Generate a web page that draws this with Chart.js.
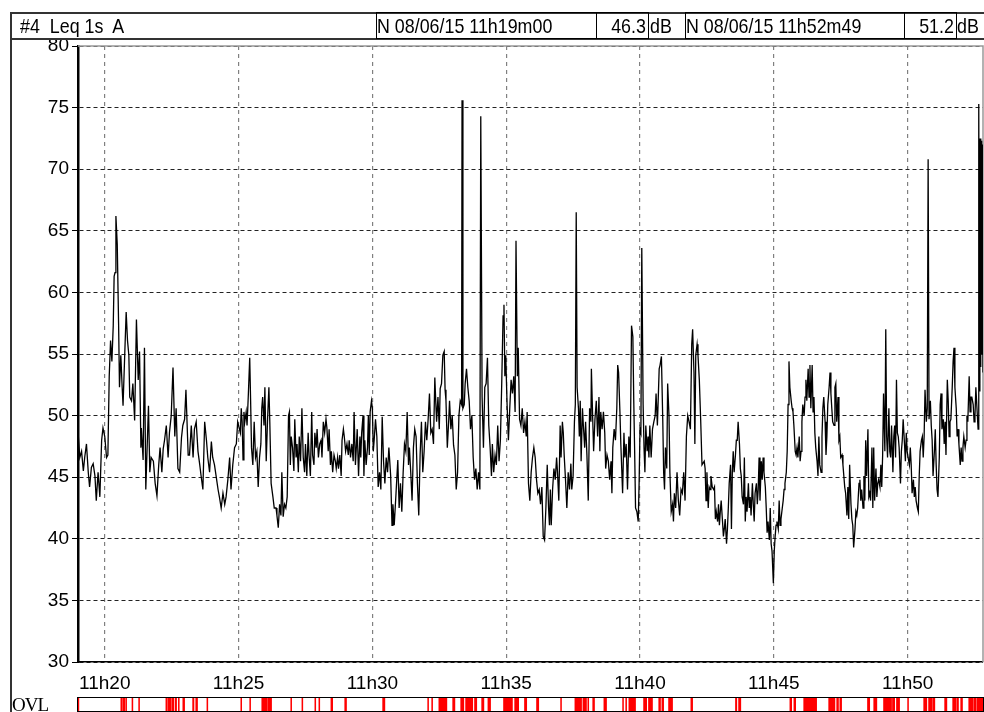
<!DOCTYPE html>
<html>
<head>
<meta charset="utf-8">
<title>Leq 1s A</title>
<script src="https://cdn.jsdelivr.net/npm/chart.js@4.4.0/dist/chart.umd.min.js"></script>
<style>
  html, body { margin: 0; padding: 0; background: #fff; }
  body {
    position: relative; width: 984px; height: 712px; overflow: hidden;
    font-family: 'Liberation Sans', Arial, sans-serif;
    font-size: 21px; color: #000;
  }
  canvas { position: absolute; }
  #main { left: 0; top: 0; }
  #ovl { left: 77px; top: 697px; }
  .line { position: absolute; background: #333; }
  .txt { position: absolute; top: 12px; height: 27px; line-height: 27px; white-space: pre; }
  .box { position: absolute; top: 12px; height: 25px; line-height: 25px; border: 1px solid #000; white-space: pre; box-sizing: content-box; overflow: hidden; }
  .sq { display: inline-block; transform: scaleX(0.85); transform-origin: 0 50%; }
  .num { text-align: right; padding-right: 2px; }
  .num .sq { transform-origin: 100% 50%; }
  #ovlLabel { position: absolute; left: 12px; top: 694px; font-family: 'Liberation Serif', 'Times New Roman', serif; font-size: 19px; letter-spacing: -1px; }
</style>
</head>
<body>
<canvas id="main" width="984" height="712"></canvas>
<canvas id="ovl" width="907" height="15"></canvas>

<div class="line" style="left:10px; top:12px; width:974px; height:2px;"></div>
<div class="line" style="left:10px; top:38px; width:974px; height:2px;"></div>
<div class="line" style="left:10px; top:12px; width:2px; height:700px;"></div>
<div class="txt" style="left:20px;"><span class="sq">#4  Leq 1s  A</span></div>
<div class="box" style="left:376px; width:219px;"><span class="sq">N 08/06/15 11h19m00</span></div>
<div class="box num" style="left:596px; width:49px;"><span class="sq">46.3</span></div>
<div class="txt" style="left:650px;"><span class="sq">dB</span></div>
<div class="box" style="left:685px; width:218px;"><span class="sq">N 08/06/15 11h52m49</span></div>
<div class="box num" style="left:904px; width:49px;"><span class="sq">51.2</span></div>
<div class="txt" style="left:957px;"><span class="sq">dB</span></div>
<div id="ovlLabel">OVL</div>

<script>
// seconds after 11h19m00 and the Leq (dB) read at that second
const seconds = [
  0,4,8,12,15,19,23,26,30,34,38,41,45,49,53,56,60,64,67,70,73,76,79,81,83,85,88,91,93,96,
  99,101,105,108,111,114,116,120,123,127,131,135,138,141,142,146,149,152,155,158,161,164,169,173,177,181,184,188,191,194,
  198,202,205,209,213,217,220,224,228,232,235,239,242,247,250,254,258,261,265,269,273,276,280,284,288,291,295,299,302,306,
  310,314,317,321,325,329,332,336,340,343,347,351,355,358,
  364,366,368,370,372,374,377,379,382,385,387,389,392,395,398,401,404,407,410,412,414,417,419,422,425,428,430,433,437,440,
  444,446,449,452,455,457,460,463,466,469,472,474,476,478,481,484,486,489,491,494,496,499,502,505,508,510,513,516,518,521,
  524,526,529,531,534,536,539,542,545,547,550,553,556,558,561,563,566,568,571,574,577,579,582,584,587,590,592,595,597,600,
  603,606,608,611,614,617,619,622,624,626,629,632,634,636,639,641,643,646,649,651,653,655,658,660,662,664,667,670,673,676,
  679,682,685,688,691,694,697,701,704,
  706,709,713,717,720,723,726,729,732,735,738,741,743,746,749,752,755,758,761,764,767,770,773,776,779,782,785,788,791,794,
  797,800,802,804,807,810,812,815,818,821,823,825,828,831,833,836,839,842,845,848,851,854,857,860,861,863,866,868,871,874,
  877,880,883,886,889,892,895,898,901,903,906,909,912,915,918,921,924,927,929,932,935,938,941,944,947,950,953,955,957,959,
  962,965,968,971,974,977,980,982,985,987,990,993,996,999,1002,1005,1007,1010,1013,1016,1019,1022,1025,1028,1031,1034,1037,1040,1043,1046,
  1049,1052,
  1055,1057,1059,1061,1064,1067,1070,1073,1075,1078,1081,1083,1086,1088,1090,1093,1096,1099,1102,1105,1107,1110,1113,1115,1117,1119,1122,1124,1126,1128,
  1131,1133,1136,1138,1141,1144,1147,1150,1151,1154,1156,1159,1162,1165,1168,1170,1172,1175,1178,1181,1183,1186,1189,1192,1195,1197,1199,1202,1205,1208,
  1210,1212,1215,1217,1219,1221,1224,1226,1229,1232,1235,1238,1241,1244,1246,1248,1250,1253,1256,1258,1260,1262,1264,1267,1269,1271,1273,1276,1278,1280,
  1282,1285,1288,1291,1294,1296,1299,1301,1303,1305,1308,1311,1313,1315,1317,1320,1322,1325,1327,1330,1333,1335,1337,1340,1343,1346,1349,1352,1355,1358,
  1361,1364,1367,1370,1373,1376,1378,1381,1383,1385,1388,1390,1393,1396,1399,
  1404,1406,1408,1410,1413,1415,1417,1419,1422,1425,1427,1429,1431,1434,1436,1438,1440,1442,1445,1447,1449,1451,1454,1456,1458,1460,1463,1465,1467,1469,
  1471,1474,1476,1478,1480,1483,1485,1487,1489,1492,1494,1496,1498,1500,1503,1505,1507,1509,1512,1514,1516,1518,1521,1523,1525,1527,1529,1532,1534,1536,
  1538,1541,1543,1545,1547,1550,1552,1554,1556,1559,1561,1563,1565,1567,1570,1572,1574,1576,1579,1581,1583,1585,1588,1590,1592,1594,1596,1599,1601,1603,
  1605,1608,1610,1612,1614,1617,1619,1621,1623,1625,1628,1630,1632,1634,1637,1639,1641,1643,1646,1648,1650,1652,1654,1657,1659,1661,1663,1666,1668,1670,
  1672,1675,1677,1679,1681,1684,1686,1688,1690,1692,1695,1697,1699,1701,1704,1706,1708,1710,1713,1715,1717,1719,1721,1724,1726,1728,1730,1733,1735,1737,
  1739,1742,1744,1746,1748,
  1751,1753,1755,1757,1760,1762,1764,1766,1768,1771,1773,1775,1777,1780,1782,1784,1786,1789,1791,1793,1795,1798,1800,1802,1804,1806,1809,1811,1813,1815,
  1818,1820,1822,1824,1827,1829,1831,1833,1835,1837,1839,1841,1844,1846,1848,1850,1853,1855,1857,1859,1861,1864,1866,1868,1870,1873,1875,1877,1879,1882,
  1884,1886,1888,1891,1893,1895,1897,1899,1902,1904,1906,1908,1911,1913,1915,1917,1920,1922,1924,1926,1928,1931,1933,1935,1937,1940,1942,1944,1946,1949,
  1951,1953,1955,1957,1960,1962,1964,1966,1969,1971,1973,1975,1978,1980,1982,1984,1986,1989,1991,1993,1995,1998,2000,2002,2004,2007,2009,2011,2013,2015,
  2018,2019,2020,2021,2022,2023,2024,2025,2026,2027,2028,2029
];
const leqA = [
  48.7,46.6,47.1,45.5,46.6,47.7,45.4,44.2,45.8,46.1,45.1,43.1,45.4,43.4,48.0,49.0,48.3,46.6,46.8,53.2,56.1,54.4,57.3,61.3,61.6,66.2,63.9,57.5,52.3,54.9,
  52.3,50.8,55.2,58.4,56.1,54.9,51.5,51.2,52.6,49.6,57.8,52.9,55.2,47.4,49.0,46.4,55.5,44.0,47.4,50.8,45.4,46.6,46.3,44.5,43.5,46.0,47.4,45.4,47.3,48.0,
  49.2,46.6,48.6,50.0,53.9,48.3,50.6,45.7,45.4,48.2,49.2,49.7,52.1,46.8,46.8,49.2,46.6,48.9,49.5,47.1,46.0,45.1,44.0,49.5,48.0,46.6,45.4,47.9,46.6,46.0,
  45.0,44.0,43.4,42.5,43.7,42.8,43.4,44.8,46.6,44.0,46.0,47.4,47.7,49.5,
  48.6,50.6,49.5,46.4,50.3,49.5,50.3,49.2,51.8,54.7,51.2,47.4,46.0,49.5,46.6,47.1,44.2,46.6,47.7,50.6,51.5,49.2,52.3,46.3,49.7,52.3,49.5,44.5,43.4,42.5,
  42.5,41.9,40.9,42.8,41.9,45.4,41.8,42.8,42.5,43.4,50.0,50.3,46.0,48.3,47.4,45.5,49.7,46.6,47.7,45.4,48.3,46.3,50.6,46.6,45.4,47.7,45.1,48.6,46.8,45.1,
  50.3,46.8,46.0,48.6,47.4,48.9,46.6,47.7,48.0,46.6,49.5,48.6,49.7,49.0,47.1,48.9,46.0,47.1,45.4,46.8,46.3,45.7,46.6,45.7,46.8,45.1,48.0,48.9,48.3,47.1,
  47.7,46.8,48.0,46.6,47.7,46.3,50.3,46.0,47.4,48.9,45.1,48.3,46.6,48.6,50.0,45.1,48.0,46.0,47.4,50.0,46.8,50.3,51.2,50.6,47.1,48.0,49.7,48.3,44.2,45.4,
  44.0,49.9,46.3,44.5,46.6,45.4,47.4,45.1,41.1,
  42.8,41.1,43.7,46.4,42.5,44.5,42.2,45.4,47.7,47.1,50.3,46.0,47.4,45.4,43.1,47.4,48.9,48.3,44.5,41.9,46.8,49.5,45.4,47.1,49.5,48.0,49.7,51.8,48.6,48.9,
  47.7,53.1,51.2,49.5,51.5,48.9,52.2,52.6,54.9,55.2,52.1,51.2,47.4,49.5,51.2,48.9,50.0,47.6,46.8,44.0,45.4,50.0,51.2,50.9,75.6,50.6,50.9,52.6,53.8,52.3,
  51.2,48.9,50.0,46.6,44.8,45.7,44.0,45.4,44.0,74.3,51.5,47.4,52.3,52.6,54.7,49.2,47.4,45.1,47.7,45.4,46.8,46.0,49.2,46.3,48.0,52.6,58.1,59.0,53.2,54.9,
  50.9,48.0,50.6,52.9,51.8,53.2,50.3,64.2,53.2,55.5,49.7,49.2,50.6,48.6,49.5,48.3,50.3,44.5,43.1,45.4,46.6,47.4,46.6,44.8,43.7,44.0,42.8,44.2,40.2,39.9,
  42.5,46.0,
  42.5,41.1,44.0,41.1,44.0,45.7,44.8,46.6,45.4,43.1,49.2,46.6,49.5,48.6,46.8,44.8,42.5,45.4,44.0,46.1,44.0,45.1,49.5,50.9,66.5,52.3,50.6,48.3,51.2,46.3,
  50.6,49.2,47.4,49.5,46.8,43.1,50.6,49.5,53.8,49.7,47.1,49.7,51.2,48.3,51.5,47.1,50.3,48.9,50.3,48.6,45.7,46.8,46.3,44.8,46.3,43.7,47.4,48.9,48.0,50.6,
  54.1,53.5,50.3,47.7,45.7,43.7,48.6,46.6,47.7,44.0,48.3,46.6,57.3,56.4,51.2,47.1,42.5,42.2,41.4,44.5,48.9,48.6,63.6,50.9,47.4,45.4,49.2,47.1,48.3,46.6,
  49.2,46.6,48.9,49.5,50.0,51.8,49.2,51.5,53.8,54.1,54.8,49.7,45.4,44.0,47.4,45.7,52.6,50.0,45.4,42.2,42.8,41.4,43.7,42.5,45.4,43.1,41.9,44.0,43.7,45.4,
  43.1,48.3,50.0,49.5,48.9,55.8,57.0,53.5,47.7,54.9,55.8,54.9,52.9,49.7,46.0,
  46.3,45.7,43.1,45.4,42.5,44.2,44.0,45.1,44.2,44.0,44.2,41.6,42.2,41.4,42.8,41.1,42.2,43.1,41.4,40.2,40.8,41.6,39.6,40.8,42.5,44.5,46.0,40.8,45.4,47.1,
  45.4,46.8,48.0,48.0,49.5,47.7,45.7,45.1,43.4,42.8,46.6,41.4,43.4,42.2,44.5,42.5,43.4,41.9,44.5,42.8,41.4,43.7,44.5,42.8,44.0,46.6,43.1,46.3,44.8,46.6,
  45.4,44.2,42.5,40.5,41.4,39.9,42.5,39.6,39.0,36.4,39.0,40.2,41.1,41.4,40.8,43.1,41.1,41.6,42.5,43.1,44.0,44.5,45.4,47.1,50.9,54.4,52.3,51.2,50.6,50.3,
  49.2,47.1,46.8,47.4,46.6,48.3,46.3,47.1,49.5,50.9,50.0,51.5,52.9,51.2,53.8,51.5,54.1,50.6,54.1,50.3,51.5,48.6,47.4,46.3,45.1,48.3,46.0,45.4,48.3,50.6,
  51.5,49.5,46.8,48.3,50.9,52.3,53.5,51.8,50.6,49.5,49.2,52.3,52.6,49.5,51.5,48.0,48.3,46.6,46.8,46.0,45.1,44.2,43.7,41.9,44.2,41.6,46.0,42.8,41.6,41.1,
  39.3,40.8,42.2,41.9,42.5,
  44.5,44.8,43.1,44.0,42.5,45.1,43.1,48.0,45.1,48.9,43.4,43.7,43.1,47.4,42.5,47.4,43.1,45.7,43.4,44.5,44.8,44.2,46.0,44.2,46.8,51.8,47.1,57.0,48.3,46.6,
  50.6,47.1,46.6,49.2,45.4,48.3,49.2,46.6,52.9,48.6,48.3,47.4,44.5,47.1,48.0,49.7,47.7,46.3,48.6,47.1,46.6,46.0,47.4,46.0,43.7,44.8,43.4,44.2,43.1,42.5,
  42.2,45.1,47.1,48.0,48.3,46.6,48.3,52.1,49.5,50.6,70.8,49.7,51.2,49.2,48.0,45.1,47.1,48.9,46.0,44.0,43.4,46.6,50.9,51.8,48.9,49.7,47.7,49.5,46.8,52.9,
  51.2,48.3,49.5,49.7,52.3,54.4,55.5,52.3,50.6,48.3,48.9,47.7,46.0,47.4,46.3,47.4,48.3,47.4,48.0,50.0,49.5,53.2,50.3,51.5,51.5,50.9,49.5,50.0,52.3,50.9,
  48.9,51.5,75.3,52.0,72.5,54.0,72.5,55.0,72.3,56.0,72.0,53.5
];

// x axis ticks (seconds after 11h19m00) and their labels
const tickSeconds = [60, 360, 660, 960, 1260, 1560, 1860];
const timeTicks = ['11h20', '11h25', '11h30', '11h35', '11h40', '11h45', '11h50'];

// overload periods, start / end in seconds after 11h19m00
const ovlStart = [0,96,100,107,121,136,197,201,210,218,225,235,257,264,289,365,385,412,425,477,502,531,540,567,598,683,784,793,809,840,
  858,869,889,905,919,954,979,1001,1028,1082,1114,1132,1143,1154,1179,1221,1228,1235,1268,1279,1302,1309,1324,1374,1474,1481,1596,1605,1627,1683,
  1701,1708,1770,1784,1806,1826,1835,1860,1896,1907,1916,1943,1961,1970,1979,1997,2008,2015];
const ovlEnd = [2,98,105,109,123,138,199,208,215,221,227,239,260,268,291,367,387,423,434,479,504,533,542,571,602,688,786,795,827,845,
  865,885,894,910,925,974,988,1006,1033,1084,1129,1140,1145,1158,1185,1223,1230,1250,1275,1288,1306,1313,1333,1378,1477,1486,1600,1609,1656,1697,
  1705,1712,1775,1791,1824,1831,1842,1862,1903,1914,1921,1948,1968,1974,1983,2006,2013,2029];

Chart.defaults.font.family = "'Liberation Sans', Arial, sans-serif";
Chart.defaults.font.size = 19;
Chart.defaults.color = '#000';

// grey top and right edge of the plot
const frameLines = {
  id: 'frameLines',
  beforeDatasetsDraw(chart) {
    const { ctx, chartArea: a } = chart;
    ctx.save();
    ctx.strokeStyle = '#999';
    ctx.lineWidth = 1.5;
    ctx.beginPath();
    ctx.moveTo(a.left, a.top);
    ctx.lineTo(a.right, a.top);
    ctx.lineTo(a.right, a.bottom);
    ctx.stroke();
    ctx.restore();
  }
};

new Chart(document.getElementById('main'), {
  type: 'line',
  data: {
    datasets: [{
      data: seconds.map((s, i) => ({ x: s, y: leqA[i] })),
      borderColor: '#000',
      borderWidth: 1.3,
      pointRadius: 0,
      tension: 0,
      fill: false,
    }]
  },
  options: {
    responsive: false,
    animation: false,
    layout: { padding: { top: 46, right: 1, left: 0, bottom: 0 } },
    plugins: { legend: { display: false }, tooltip: { enabled: false } },
    scales: {
      x: {
        type: 'linear',
        min: 0,
        max: 2029,
        afterBuildTicks: (scale) => { scale.ticks = tickSeconds.map(v => ({ value: v })); },
        afterFit: (scale) => { scale.height = 50; },
        ticks: {
          autoSkip: false,
          maxRotation: 0,
          padding: 10,
          callback: (v) => timeTicks[tickSeconds.indexOf(v)],
        },
        grid: { color: '#808080', lineWidth: 1.2, drawTicks: false },
        border: { display: true, color: '#000', width: 1.5, dash: [4, 4] },
      },
      y: {
        min: 30,
        max: 80,
        afterFit: (scale) => { scale.width = 78; },
        ticks: { stepSize: 5, padding: 3 },
        grid: { color: '#222', lineWidth: 1, tickLength: 6, tickColor: '#000', tickBorderDash: [] },
        border: { display: true, color: '#000', width: 2.5, dash: [4, 3] },
      }
    }
  },
  plugins: [frameLines]
});

// black outline of the OVL strip
const ovlBox = {
  id: 'ovlBox',
  afterDraw(chart) {
    const { ctx, width, height } = chart;
    ctx.save();
    ctx.strokeStyle = '#000';
    ctx.lineWidth = 1;
    ctx.strokeRect(0.5, 0.5, width - 1, height - 1);
    ctx.restore();
  }
};

new Chart(document.getElementById('ovl'), {
  type: 'bar',
  data: {
    labels: ['OVL'],
    datasets: ovlStart.map((s, i) => ({
      data: [[s, ovlEnd[i]]],
      backgroundColor: '#ff0000',
      borderWidth: 0,
      barPercentage: 1,
      categoryPercentage: 1,
      grouped: false,
    }))
  },
  options: {
    indexAxis: 'y',
    responsive: false,
    animation: false,
    layout: { padding: { top: 1, bottom: 1, left: 1, right: 1 } },
    plugins: { legend: { display: false }, tooltip: { enabled: false } },
    scales: {
      x: { type: 'linear', min: 0, max: 2029, display: false },
      y: { display: false }
    }
  },
  plugins: [ovlBox]
});
</script>
</body>
</html>
